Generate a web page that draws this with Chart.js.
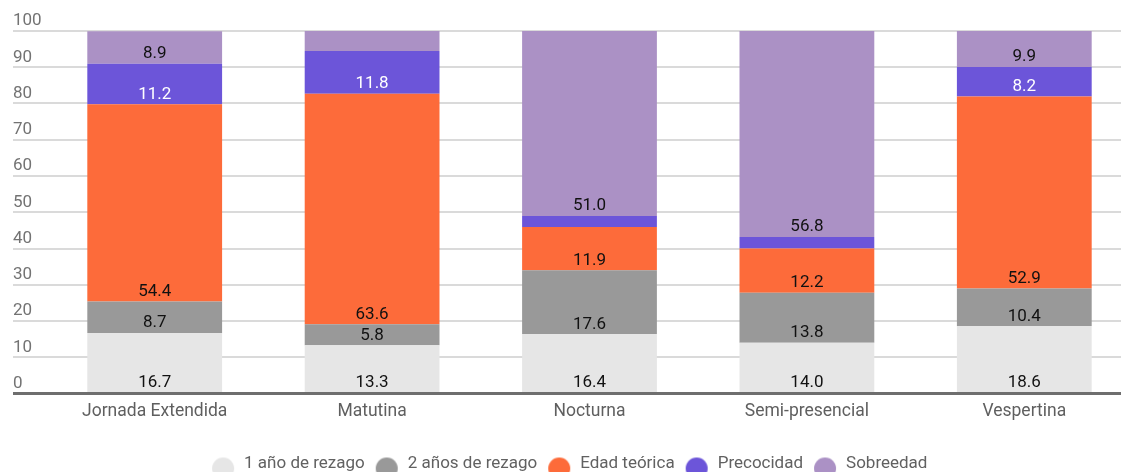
<!DOCTYPE html>
<html>
<head>
<meta charset="utf-8">
<script src="https://cdn.jsdelivr.net/npm/chart.js@4/dist/chart.umd.min.js"></script>
<style>
  html, body { margin: 0; padding: 0; background: #fff; overflow: hidden; }
  #wrap { width: 1133px; height: 472px; }
</style>
</head>
<body>
<div id="wrap"><canvas id="chart" width="1133" height="472"></canvas></div>
<script>
const CATEGORIES = ["Jornada Extendida", "Matutina", "Nocturna", "Semi-presencial", "Vespertina"]

const UN_ANO = [16.7, 13.3, 16.4, 14.0, 18.6]
const DOS_ANOS = [8.7, 5.8, 17.6, 13.8, 10.4]
const EDAD_TEORICA = [54.4, 63.6, 11.9, 12.2, 52.9]
const PRECOCIDAD = [11.2, 11.8, 3.1, 3.2, 8.2]
const SOBREEDAD = [8.9, 5.5, 51.0, 56.8, 9.9]

const LIGHT = "#e6e6e6"
const GREY = "#999999"
const ORANGE = "#fd6b3a"
const PURPLE = "#6c55d9"
const LILAC = "#ab91c5"

const AXIS = "#6e6e6e"
const GRID = "#dadada"

Chart.defaults.font.family = "Roboto"

// legend dot, drawn a bit lower and to the left of the item's box
const legendDot = (color) => {
  const c = document.createElement("canvas")
  c.width = 32
  c.height = 32
  const g = c.getContext("2d")
  g.fillStyle = color
  g.beginPath()
  g.arc(12, 21, 11, 0, Math.PI * 2)
  g.fill()
  return c
}

const barLabels = {
  id: "barLabels",
  afterDatasetsDraw: (chart) => {
    const { ctx } = chart

    ctx.save()
    ctx.font = "17px Roboto"
    ctx.textAlign = "center"
    ctx.textBaseline = "alphabetic"

    chart.data.datasets.forEach((ds, i) => {
      const meta = chart.getDatasetMeta(i)

      meta.data.forEach((bar, j) => {
        const { x, y, base } = bar.getProps(["x", "y", "base"], true)

        if (base - y < 20.5) return

        ctx.fillStyle = ds.labelColor
        ctx.fillText(ds.data[j].toFixed(1), x, base - 5.5)
      })
    })

    ctx.restore()
  },
}

const series = [
  ["1 año de rezago", UN_ANO, LIGHT, "#111"],
  ["2 años de rezago", DOS_ANOS, GREY, "#111"],
  ["Edad teórica", EDAD_TEORICA, ORANGE, "#111"],
  ["Precocidad", PRECOCIDAD, PURPLE, "#fff"],
  ["Sobreedad", SOBREEDAD, LILAC, "#111"],
]

const datasets = series.map(([label, data, color, labelColor]) => ({
  label: label,
  data: data,
  backgroundColor: color,
  borderWidth: 0,
  barPercentage: 0.62,
  categoryPercentage: 1.0,
  labelColor: labelColor,
}))

const dots = series.map(([, , color]) => legendDot(color))

new Chart(document.getElementById("chart"), {
  type: "bar",
  data: { labels: CATEGORIES, datasets: datasets },
  plugins: [barLabels],
  options: {
    responsive: false,
    animation: false,
    maintainAspectRatio: false,
    layout: {
      padding: { top: 31, left: 13, right: 0, bottom: -10 },
    },
    plugins: {
      tooltip: { enabled: false },
      legend: {
        position: "bottom",
        labels: {
          usePointStyle: true,
          padding: 17.5,
          color: "#616161",
          font: { size: 17 },
          generateLabels: (chart) =>
            Chart.defaults.plugins.legend.labels
              .generateLabels(chart)
              .map((item) => ({ ...item, pointStyle: dots[item.datasetIndex] })),
        },
      },
    },
    scales: {
      x: {
        stacked: true,
        z: 1,
        grid: { display: false, drawTicks: false },
        border: { display: true, color: AXIS, width: 3 },
        ticks: {
          padding: 8,
          maxRotation: 0,
          color: "#5f5f5f",
          font: { size: 17.5 },
        },
        afterFit: (scale) => {
          scale.height += 7
        },
      },
      y: {
        stacked: true,
        min: 0,
        max: 100,
        border: { display: false },
        grid: {
          drawTicks: true,
          tickLength: 33,
          color: (ctx) => (ctx.tick && ctx.tick.value === 0 ? AXIS : GRID),
          lineWidth: (ctx) => (ctx.tick && ctx.tick.value === 0 ? 3 : 2),
        },
        ticks: {
          stepSize: 10,
          crossAlign: "far",
          labelOffset: -10,
          padding: 0,
          color: "#737373",
          font: { size: 17 },
        },
        afterFit: (scale) => {
          scale.width = 33
        },
      },
    },
  },
})
</script>
</body>
</html>
